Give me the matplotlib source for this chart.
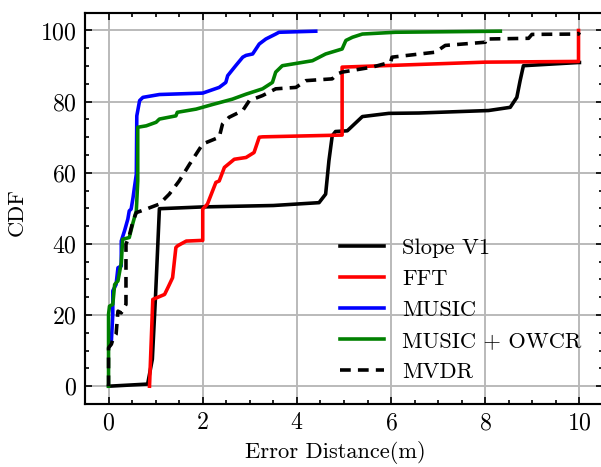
import matplotlib
matplotlib.use("Agg")
import matplotlib.pyplot as plt
from matplotlib.ticker import MultipleLocator

plt.rcParams.update({
    "font.family": "serif",
    "font.serif": ["cmr10"],
    "mathtext.fontset": "cm",
    "axes.formatter.use_mathtext": True,
    "font.size": 9.4,
    "xtick.labelsize": 10,
    "ytick.labelsize": 10,
    "axes.linewidth": 0.9,
    "xtick.direction": "in",
    "ytick.direction": "in",
    "xtick.top": True,
    "ytick.right": True,
    "xtick.major.size": 3,
    "ytick.major.size": 3,
    "xtick.minor.size": 1.5,
    "ytick.minor.size": 1.5,
    "xtick.major.width": 0.7,
    "ytick.major.width": 0.7,
    "xtick.minor.width": 0.7,
    "ytick.minor.width": 0.7,
    "xtick.minor.visible": True,
    "ytick.minor.visible": True,
})

# Slope V1
slope_x = [0.0, 0.83, 0.93, 1.0, 1.08, 2.0, 3.5, 4.47, 4.61, 4.68, 4.75, 4.82, 5.07, 5.39, 5.95, 6.59, 8.07, 8.53, 8.67, 8.74, 8.81, 9.98, 10.0]
slope_y = [0.0, 0.6, 7.6, 26.0, 49.9, 50.4, 50.8, 51.6, 54.0, 63.4, 70.4, 71.6, 71.8, 75.8, 76.7, 76.8, 77.5, 78.4, 81.2, 85.9, 90.1, 91.0, 91.0]

# FFT
fft_x = [0.87, 0.94, 1.19, 1.26, 1.36, 1.43, 1.47, 1.65, 2.0, 2.0, 2.1, 2.28, 2.35, 2.46, 2.67, 2.92, 3.09, 3.2, 3.27, 4.96, 4.96, 8.0, 9.98, 9.98]
fft_y = [0.0, 24.4, 25.8, 27.7, 30.5, 39.0, 39.5, 40.8, 41.0, 49.8, 51.2, 57.3, 57.7, 61.5, 63.8, 64.3, 65.7, 70.0, 70.1, 70.6, 89.7, 91.1, 91.3, 100.0]

# MUSIC
music_x = [0.02, 0.06, 0.09, 0.09, 0.16, 0.2, 0.27, 0.27, 0.34, 0.41, 0.44, 0.48, 0.52, 0.55, 0.59, 0.6, 0.66, 0.73, 1.08, 2.0, 2.35, 2.49, 2.53, 2.7, 2.85, 2.92, 3.06, 3.2, 3.34, 3.55, 3.62, 4.4]
music_y = [11.3, 12.7, 20.2, 26.8, 28.6, 33.3, 33.8, 40.8, 43.7, 47.0, 49.3, 49.8, 53.0, 55.9, 59.6, 76.0, 80.3, 81.2, 82.0, 82.4, 84.0, 85.4, 87.3, 90.1, 92.5, 93.0, 93.4, 96.2, 97.6, 99.0, 99.5, 99.8]

# MUSIC + OWCR
owcr_x = [0.0, 0.0, 0.02, 0.09, 0.13, 0.2, 0.27, 0.3, 0.44, 0.52, 0.59, 0.62, 0.62, 0.8, 1.01, 1.08, 1.43, 1.46, 1.86, 2.21, 2.63, 2.92, 3.27, 3.48, 3.55, 3.69, 4.33, 4.61, 4.96, 5.04, 5.18, 5.39, 6.09, 8.32]
owcr_y = [0.0, 20.2, 22.5, 23.0, 28.6, 29.6, 34.7, 41.3, 41.8, 46.0, 49.3, 57.7, 72.8, 73.2, 74.2, 75.1, 76.0, 77.0, 77.9, 79.2, 80.7, 82.1, 83.6, 85.4, 88.3, 90.1, 91.5, 93.4, 94.8, 97.2, 98.1, 99.0, 99.5, 99.8]

# MVDR
mvdr_x = [0.0, 0.0, 0.06, 0.1, 0.16, 0.2, 0.27, 0.37, 0.37, 0.44, 0.52, 0.59, 0.8, 1.08, 1.29, 1.5, 1.72, 2.0, 2.35, 2.42, 2.56, 2.85, 2.99, 3.27, 3.55, 3.98, 4.19, 4.75, 4.86, 4.96, 5.6, 5.99, 6.02, 6.94, 7.15, 8.0, 8.0, 8.92, 8.99, 9.98, 10.0]
mvdr_y = [0.0, 10.8, 11.8, 13.5, 14.6, 21.1, 20.6, 23.0, 39.9, 42.3, 46.5, 48.8, 49.8, 51.2, 54.0, 57.7, 62.4, 68.1, 70.0, 73.7, 75.6, 77.5, 80.3, 81.7, 83.6, 84.0, 85.9, 86.4, 87.8, 88.3, 89.7, 91.1, 92.5, 93.9, 95.8, 96.7, 97.6, 97.8, 98.9, 99.0, 99.5]

DPI = 172
fig = plt.figure(figsize=(601 / DPI, 467 / DPI), dpi=DPI)
ax = fig.add_axes([85 / 601, 1 - 404 / 467, (603 - 85) / 601, (404 - 12.7) / 467])

lw = 1.5
ax.plot(slope_x, slope_y, color="black", lw=lw, label="Slope V1")
ax.plot(fft_x, fft_y, color="red", lw=lw, label="FFT")
ax.plot(music_x, music_y, color="blue", lw=lw, label="MUSIC")
ax.plot(owcr_x, owcr_y, color="green", lw=lw, label="MUSIC + OWCR")
ax.plot(mvdr_x, mvdr_y, color="black", lw=lw, ls=(0, (3.0, 2.0)), label="MVDR")

ax.set_xlim(-0.5, 10.5)
ax.set_ylim(-5, 105)
ax.xaxis.set_major_locator(MultipleLocator(2))
ax.xaxis.set_minor_locator(MultipleLocator(0.5))
ax.yaxis.set_major_locator(MultipleLocator(20))
ax.yaxis.set_minor_locator(MultipleLocator(5))
ax.grid(True, which="major", color="#b8b8b8", lw=0.8)
ax.set_axisbelow(True)

ax.set_xlabel("Error Distance(m)", va="center")
ax.xaxis.set_label_coords(0.483, -0.123)
ax.set_ylabel("CDF", va="center")
ax.yaxis.set_label_coords(-0.131, 0.49)

ax.legend(loc="lower right", frameon=False, handlelength=2.0,
          bbox_to_anchor=(0.998, 0.005))

fig.savefig("out.png", dpi=DPI)
